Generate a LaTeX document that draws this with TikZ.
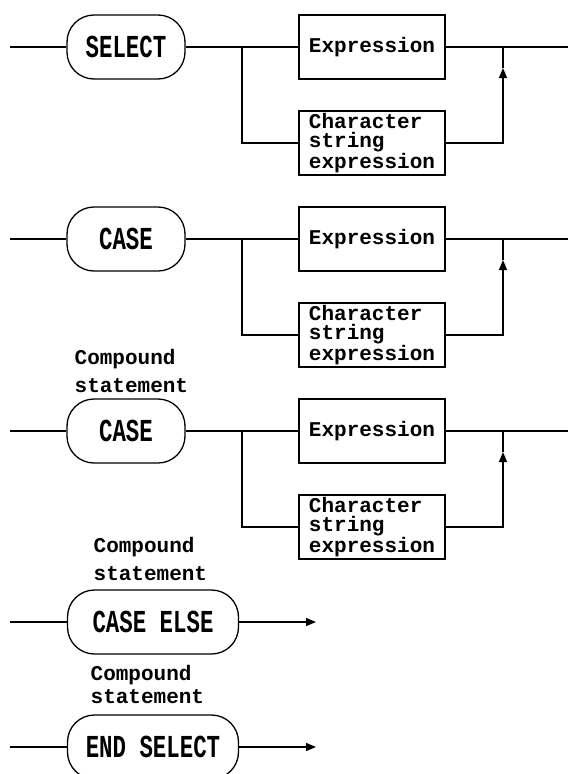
\documentclass[tikz,border=0pt]{standalone}
\usepackage{fontspec}
\newfontfamily\monofont{Liberation Mono}
\newfontfamily\kwfont[FakeStretch=0.7]{Liberation Mono}
\usetikzlibrary{arrows.meta}
\tikzset{
 kwbox/.style={draw,rounded corners=27pt,minimum height=64pt,inner sep=0pt,font=\kwfont\bfseries\fontsize{32}{32}\selectfont},
 opbox/.style={draw,minimum width=146pt,minimum height=64pt,inner sep=0pt,align=left,font=\monofont\bfseries\fontsize{21}{19}\selectfont},
 lbl/.style={inner sep=0pt,align=left,font=\monofont\bfseries\fontsize{21}{19}\selectfont},
 tip/.style={-{Triangle[length=10pt,width=8pt]}}
}
\begin{document}
\begin{tikzpicture}[x=1pt,y=-1pt,line width=1.3pt]
\useasboundingbox(0,0)rectangle(568,774);
% three selector rows
\foreach \kw/\y[count=\i] in {SELECT/47,CASE/239,CASE/431}{
\node[kwbox,minimum width=118pt](kw\i)at(126,\y){\kw};
\node[opbox](ex\i)at(372,\y){Expression};
\node[opbox](ch\i)at(372,\y+96){Character\\string\\expression};
\coordinate(in\i)at(10,\y);\coordinate(out\i)at(568,\y);
\coordinate(sp\i)at(242,\y);\coordinate(jn\i)at(503,\y);\coordinate(up\i)at(503,\y+21);
\draw(in\i)--(kw\i);\draw(kw\i)--(ex\i);\draw(ex\i)--(out\i);
\draw(sp\i)|-(ch\i);\draw[tip](ch\i)-|(up\i);\draw(up\i)--(jn\i);
}
\node[lbl,anchor=west](cpa)at(74,371){Compound\\[9pt]statement};
\node[lbl,anchor=west](cpb)at(93,559){Compound\\[9pt]statement};
\node[lbl,anchor=west](cpc)at(90,684){Compound\\[4pt]statement};
% closing rows
\node[kwbox,minimum width=171pt](els)at(153,622){CASE ELSE};
\node[kwbox,minimum width=171pt](ends)at(153,747){END SELECT};
\coordinate(ine)at(10,622);\coordinate(oute)at(316,622);
\coordinate(ins)at(10,747);\coordinate(outs)at(316,747);
\draw(ine)--(els);\draw[tip](els)--(oute);
\draw(ins)--(ends);\draw[tip](ends)--(outs);
\end{tikzpicture}
\end{document}
